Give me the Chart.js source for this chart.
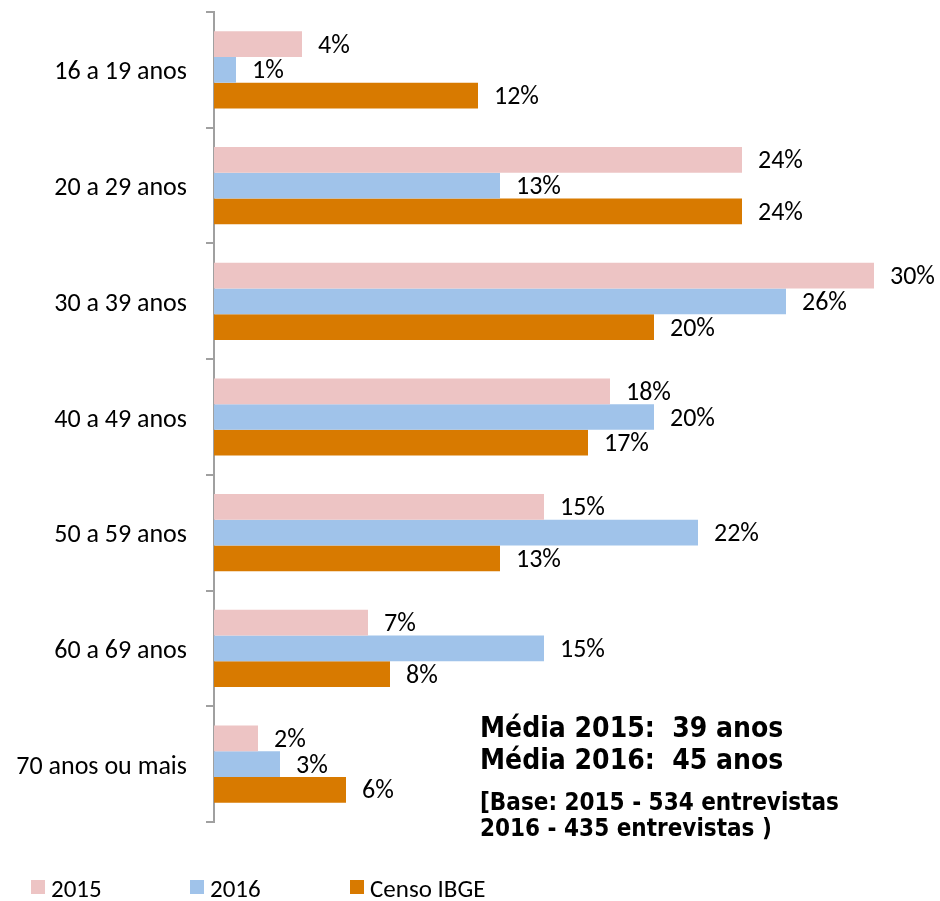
<!DOCTYPE html>
<html>
<head>
<meta charset="utf-8">
<script src="https://cdn.jsdelivr.net/npm/chart.js@4/dist/chart.umd.min.js"></script>
<style>
html,body{margin:0;padding:0;background:#fff;}
#wrap{width:940px;height:901px;}
</style>
</head>
<body>
<div id="wrap"><canvas id="c" width="940" height="901"></canvas></div>
<script>
const categories = ['16 a 19 anos', '20 a 29 anos', '30 a 39 anos', '40 a 49 anos', '50 a 59 anos', '60 a 69 anos', '70 anos ou mais'];
const seriesNames = ['2015', '2016', 'Censo IBGE'];
const values2015 = [4, 24, 30, 18, 15, 7, 2];
const values2016 = [1, 13, 26, 20, 22, 15, 3];
const valuesCenso = [12, 24, 20, 17, 13, 8, 6];
const noteLines = ['Média 2015:  39 anos', 'Média 2016:  45 anos'];
const baseLines = ['[Base: 2015 - 534 entrevistas', '2016 - 435 entrevistas )'];

const colors = ['#EDC4C4', '#A0C3EA', '#D87A00'];
const sansFamily = 'Carlito, Lato, "Open Sans", sans-serif';
const boldFamily = '"DejaVu Sans Condensed", "DejaVu Sans", sans-serif';

const valueLabels = {
  id: 'valueLabels',
  afterDatasetsDraw(chart) {
    const ctx = chart.ctx;
    ctx.save();
    ctx.font = '26px ' + sansFamily;
    ctx.fillStyle = '#000';
    ctx.textAlign = 'left';
    ctx.textBaseline = 'middle';
    chart.data.datasets.forEach((ds, i) => {
      const meta = chart.getDatasetMeta(i);
      meta.data.forEach((bar, j) => {
        ctx.fillText(ds.data[j] + '%', bar.x + 16, bar.y + 2);
      });
    });
    ctx.restore();
  }
};

const notesPlugin = {
  id: 'notes',
  afterDraw(chart) {
    const ctx = chart.ctx;
    ctx.save();
    ctx.fillStyle = '#000';
    ctx.textAlign = 'left';
    ctx.textBaseline = 'alphabetic';
    ctx.font = 'bold 28px ' + boldFamily;
    ctx.fillText(noteLines[0], 480, 737);
    ctx.fillText(noteLines[1], 480, 769);
    ctx.font = 'bold 24px ' + boldFamily;
    ctx.fillText(baseLines[0], 480, 810);
    ctx.fillText(baseLines[1], 480, 836);
    // legend
    const legendX = [31, 190, 350];
    ctx.font = '25px ' + sansFamily;
    chart.data.datasets.forEach((ds, i) => {
      ctx.fillStyle = ds.backgroundColor;
      ctx.fillRect(legendX[i], 880, 14, 14);
      ctx.fillStyle = '#000';
      ctx.fillText(ds.label, legendX[i] + 20, 897);
    });
    ctx.restore();
  }
};

new Chart(document.getElementById('c'), {
  type: 'bar',
  data: {
    labels: categories,
    datasets: [
      { label: seriesNames[0], data: values2015, backgroundColor: colors[0] },
      { label: seriesNames[1], data: values2016, backgroundColor: colors[1] },
      { label: seriesNames[2], data: valuesCenso, backgroundColor: colors[2] }
    ]
  },
  options: {
    indexAxis: 'y',
    responsive: false,
    animation: false,
    devicePixelRatio: 1,
    layout: { padding: { top: 12, right: 22, bottom: 79, left: 0 } },
    datasets: { bar: { categoryPercentage: 0.667, barPercentage: 1.0 } },
    plugins: { legend: { display: false }, tooltip: { enabled: false } },
    scales: {
      x: { display: false, min: 0, max: 32 },
      y: {
        offset: true,
        afterFit(scale) { scale.width = 214; scale.paddingTop = 0; scale.paddingBottom = 0; },
        grid: { offset: true, drawOnChartArea: false, color: '#A0A0A0', lineWidth: 2, tickLength: 8 },
        border: { display: true, color: '#A0A0A0', width: 2 },
        ticks: { color: '#000', font: { family: sansFamily, size: 26 }, padding: 19, labelOffset: 3 }
      }
    }
  },
  plugins: [valueLabels, notesPlugin]
});
</script>
</body>
</html>
